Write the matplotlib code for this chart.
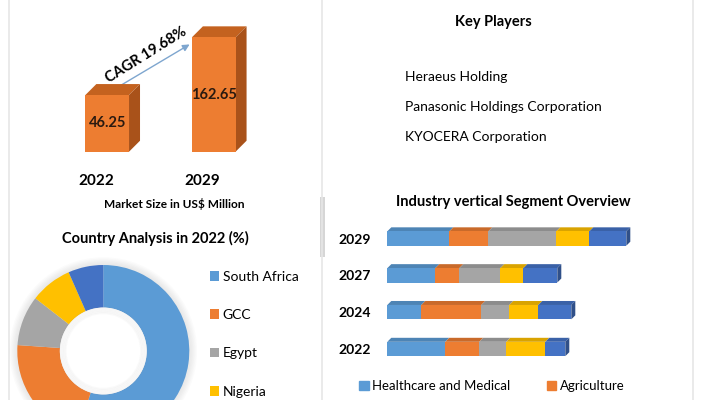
import matplotlib
matplotlib.use("Agg")
import matplotlib.pyplot as plt
import numpy as np
from matplotlib.patches import Polygon, Patch, Rectangle, Circle
from matplotlib.colors import to_rgb

plt.rcParams['font.family'] = ['Lato', 'DejaVu Sans']

W, H = 701, 400

# ---- data ----
market_years = ['2022', '2029']
market_size = [46.25, 162.65]
cagr_text = 'CAGR 19.68%'

countries = ['South Africa', 'GCC', 'Egypt', 'Nigeria', 'Rest of ME&A']
country_share = [54.7, 21.4, 9.4, 7.9, 6.6]

key_players = ['Heraeus Holding', 'Panasonic Holdings Corporation', 'KYOCERA Corporation']

seg_years = ['2022', '2024', '2027', '2029']
segments = ['Healthcare and Medical', 'Agriculture', 'Industrial', 'Consumer Electronics', 'Others']
healthcare = [5.8, 3.4, 4.8, 6.2]
agriculture = [3.4, 6.0, 2.4, 3.9]
industrial = [2.7, 2.8, 4.1, 6.8]
consumer = [3.9, 2.9, 2.3, 3.3]
others = [2.0, 3.3, 3.4, 3.7]

pal = ['#5B9BD5', '#ED7D31', '#A5A5A5', '#FFC000', '#4472C4']


def fx(x):
    return x / W


def fy(y):
    return 1 - y / H


def shade(c, f):
    r, g, b = to_rgb(c)
    return (r * f, g * f, b * f)


def add_3d(ax, rect, dx, dy, top_col, side_col=None):
    # faces drawn in display pixels then mapped back to data
    x0, y0 = rect.get_x(), rect.get_y()
    x1, y1 = x0 + rect.get_width(), y0 + rect.get_height()
    tr = ax.transData
    inv = tr.inverted()
    (px0, py0), (px1, py1) = tr.transform([(x0, y0), (x1, y1)])
    top = [(px0, py1), (px1, py1), (px1 + dx, py1 + dy), (px0 + dx, py1 + dy)]
    ax.add_patch(Polygon(inv.transform(top), closed=True, color=top_col, lw=0, zorder=1))
    if side_col is not None:
        side = [(px1, py0), (px1, py1), (px1 + dx, py1 + dy), (px1 + dx, py0 + dy)]
        ax.add_patch(Polygon(inv.transform(side), closed=True, color=side_col, lw=0, zorder=1))


fig = plt.figure(figsize=(W / 100, H / 100), dpi=100)

# overlay in pixel coords for frame lines and free text
ax0 = fig.add_axes([0, 0, 1, 1])
ax0.set_xlim(0, W)
ax0.set_ylim(H, 0)
ax0.axis('off')
for xl in [9, 322, 693]:
    ax0.plot([xl, xl], [0, H], color='#e6e6e6', lw=1.2)
ax0.add_patch(Rectangle((319.5, 197), 5, 60, color='#d6d6d6', lw=0))

# ---- market size 3D bars ----
base = -68
ax1 = fig.add_axes([fx(53.9), fy(151.7), (267 - 53.9) / W, (151.7 - 20) / H])
ax1.set_xlim(-0.5, 1.5)
ax1.set_ylim(base, base + 131.7 / 0.4958)
ax1.axis('off')
ax1.patch.set_alpha(0)
bars = ax1.bar(range(len(market_size)), np.array(market_size) - base, bottom=base,
               width=0.41, color='#ED7D31', zorder=2)
for i, b in enumerate(bars):
    add_3d(ax1, b, 11, 11, '#C4621F', '#A9521A')
    ax1.text(i, base + (market_size[i] - base) / 2, f'{market_size[i]:.2f}',
             ha='center', va='center', fontsize=10.5, fontweight='bold', color='#2a1a10', zorder=3)
    ax1.annotate(market_years[i], (i - 0.105, base), xytext=(0, -21), textcoords='offset points',
                 ha='center', va='center', fontsize=11, fontweight='bold', annotation_clip=False)

ax0.annotate('', xy=(192, 43), xytext=(118, 87),
             arrowprops=dict(arrowstyle='-|>', color='#7EA6CF', lw=1, mutation_scale=10))
ax0.text(146, 55, cagr_text, rotation=32, ha='center', va='center',
         fontsize=10.5, fontweight='bold', rotation_mode='anchor')
fig.text(fx(174), fy(204), 'Market Size in US$ Million', ha='center', va='center',
         fontsize=8.6, fontweight='bold')

# ---- country donut ----
fig.text(fx(155), fy(238), 'Country Analysis in 2022 (%)', ha='center', va='center',
         fontsize=10.5, fontweight='bold')
ax2 = fig.add_axes([fx(17.3), fy(437), 172 / W, 172 / H])
for r in np.linspace(1.0, 1.09, 7):
    ax2.add_patch(Circle((0, 0), r, color='#9a9a9a', alpha=0.035, lw=0, zorder=0))
wedges, _ = ax2.pie(country_share, colors=pal, startangle=90, counterclock=False,
                    radius=1, wedgeprops=dict(width=0.495, edgecolor='none'))
for r in np.linspace(0.44, 0.505, 5):
    ax2.add_patch(Circle((0, 0), r, fill=False, ec='#9a9a9a', alpha=0.05, lw=1.5, zorder=3))
ax2.add_patch(Circle((0, 0), 0.505, color='white', lw=0, zorder=2))
ax2.set_xlim(-1.1, 1.1)
ax2.set_ylim(-1.1, 1.1)
ax2.set_position([fx(17.3 - 8.6), fy(437 + 8.6), 189.2 / W, 189.2 / H])
fig.legend(wedges, countries, loc='upper left', bbox_to_anchor=(fx(204), fy(265)),
           frameon=False, fontsize=10, handlelength=0.7, handleheight=0.7,
           handletextpad=0.25, labelspacing=1.9, borderaxespad=0)

# ---- key players ----
fig.text(fx(493), fy(22), 'Key Players', ha='center', va='center', fontsize=10.5, fontweight='bold')
for i, p in enumerate(key_players):
    fig.text(fx(405), fy(77 + 30 * i), p, ha='left', va='center', fontsize=10)

# ---- industry vertical stacked 3D bars ----
fig.text(fx(513), fy(202), 'Industry vertical Segment Overview', ha='center', va='center',
         fontsize=10.5, fontweight='bold')
ax3 = fig.add_axes([fx(387.3), fy(367.4), 300 / W, 147.3 / H])
ax3.set_xlim(0, 30)
ax3.set_ylim(-0.5, 3.5)
ax3.patch.set_alpha(0)
for s in ax3.spines.values():
    s.set_visible(False)
ax3.set_xticks([])
ax3.tick_params(axis='y', length=0, pad=12)
ypos = np.arange(len(seg_years))
ax3.set_yticks(ypos, seg_years)
for t in ax3.get_yticklabels():
    t.set_fontweight('bold')
    t.set_fontsize(10)
left = np.zeros(len(seg_years))
seg_data = [healthcare, agriculture, industrial, consumer, others]
for k, vals in enumerate(seg_data):
    rects = ax3.barh(ypos, vals, left=left, height=0.39, color=pal[k], lw=0, zorder=2)
    for r in rects:
        add_3d(ax3, r, 4, 4, shade(pal[k], 0.85),
               shade(pal[k], 0.7) if k == len(seg_data) - 1 else None)
    left = left + np.array(vals)

order = [0, 2, 4, 1, 3]
handles = [Patch(color=pal[i]) for i in order]
fig.legend(handles, [segments[i] for i in order], ncol=2, loc='upper left',
           bbox_to_anchor=(fx(354), fy(375)), frameon=False, fontsize=9.5,
           handlelength=0.7, handleheight=0.7, handletextpad=0.25,
           columnspacing=2.8, labelspacing=3.6, borderaxespad=0)

fig.savefig('out.png', dpi=100)
